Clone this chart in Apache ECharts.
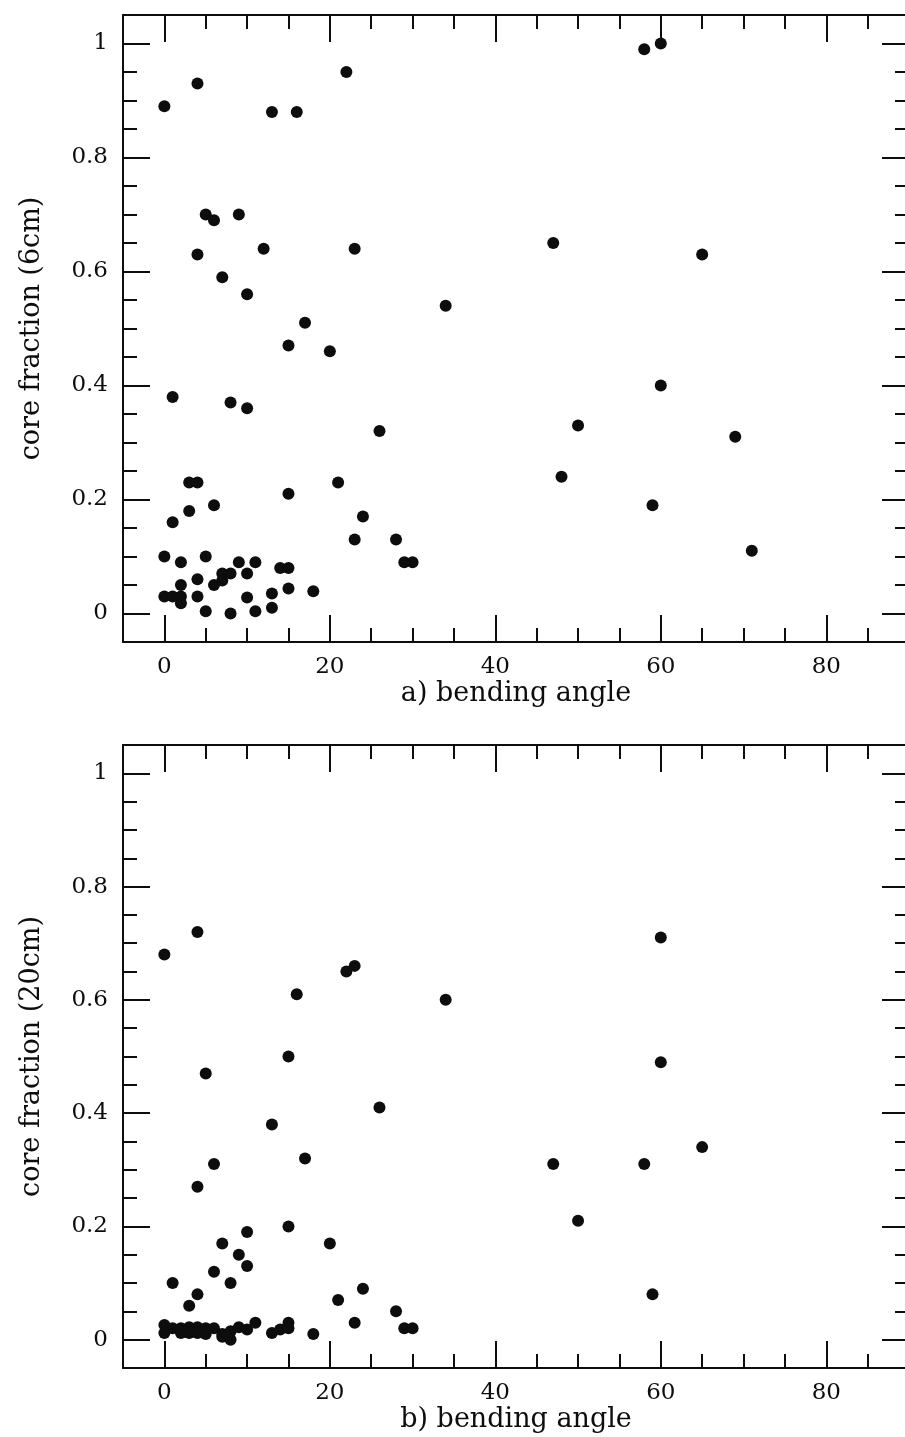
<!DOCTYPE html>
<html>
<head>
<meta charset="utf-8">
<title>core fraction vs bending angle</title>
<script src="https://cdn.jsdelivr.net/npm/echarts@6/dist/echarts.min.js"></script>
<style>
  html, body { margin: 0; padding: 0; background: #ffffff; overflow: hidden; }
  #chart { width: 905px; height: 1437px; }
</style>
</head>
<body>
<div id="chart"></div>
<script>
// Panel a: 6cm core fraction against bending angle (degrees)
const angleA = [0, 4, 13, 16, 22, 58, 60,
  5, 6, 9, 4, 7, 12, 10, 23, 17, 15, 20, 34, 47, 65,
  1, 8, 10, 60, 26, 50, 69, 48, 59, 71,
  3, 4, 21, 15, 6, 3, 1, 24, 23, 28, 29, 30,
  0, 2, 5, 9, 11, 14, 15, 7, 8, 10, 7, 4, 6, 2,
  0, 1, 2, 2, 4, 10, 13, 15, 18, 5, 8, 11, 13];
const fracA = [0.89, 0.93, 0.88, 0.88, 0.95, 0.99, 1.0,
  0.70, 0.69, 0.70, 0.63, 0.59, 0.64, 0.56, 0.64, 0.51, 0.47, 0.46, 0.54, 0.65, 0.63,
  0.38, 0.37, 0.36, 0.40, 0.32, 0.33, 0.31, 0.24, 0.19, 0.11,
  0.23, 0.23, 0.23, 0.21, 0.19, 0.18, 0.16, 0.17, 0.13, 0.13, 0.09, 0.09,
  0.10, 0.09, 0.10, 0.09, 0.09, 0.08, 0.08, 0.07, 0.07, 0.07, 0.058, 0.06, 0.05, 0.05,
  0.03, 0.03, 0.03, 0.018, 0.03, 0.028, 0.035, 0.044, 0.039, 0.004, 0.0, 0.004, 0.01];

// Panel b: 20cm core fraction against bending angle (degrees)
const angleB = [0, 4, 60, 22, 23, 16, 34, 15, 60, 5, 26, 13, 65, 17, 6, 47, 58, 4,
  50, 15, 10, 7, 20, 9, 10, 6, 1, 8, 24, 4, 59, 21, 3, 28, 23, 29, 30, 18,
  0, 0, 1, 2, 3, 4, 3, 4, 5, 6, 7, 8, 8, 9, 10, 11, 13, 14, 15, 15, 5, 2, 7];
const fracB = [0.68, 0.72, 0.71, 0.65, 0.66, 0.61, 0.60, 0.50, 0.49, 0.47, 0.41, 0.38, 0.34, 0.32, 0.31, 0.31, 0.31, 0.27,
  0.21, 0.20, 0.19, 0.17, 0.17, 0.15, 0.13, 0.12, 0.10, 0.10, 0.09, 0.08, 0.08, 0.07, 0.06, 0.05, 0.03, 0.02, 0.02, 0.01,
  0.026, 0.012, 0.02, 0.012, 0.022, 0.022, 0.012, 0.012, 0.01, 0.02, 0.01, 0.015, 0.0, 0.022, 0.018, 0.03, 0.012, 0.018, 0.03, 0.02, 0.02, 0.02, 0.005];

// Tick positions and labels
const xMajorTicks = [0, 20, 40, 60, 80];
const xMinorTicks = [5, 10, 15, 25, 30, 35, 45, 50, 55, 65, 70, 75, 85];
const yMajorTicks = [0, 0.2, 0.4, 0.6, 0.8, 1];
const yMinorTicks = [0.05, 0.1, 0.15, 0.25, 0.3, 0.35, 0.45, 0.5, 0.55, 0.65, 0.7, 0.75, 0.85, 0.9, 0.95];
const xTitles = ['a) bending angle', 'b) bending angle'];
const yTitles = ['core fraction (6cm)', 'core fraction (20cm)'];

const INK = '#0d0d0d';
const FONT = '"DejaVu Serif", "Liberation Serif", serif';
const X_RANGE = [-5, 90];
const Y_RANGE = [-0.05, 1.05];

// The frame runs slightly past the right edge of the page
const grids = [
  { left: 123, top: 15, width: 786, height: 627, outerBoundsMode: 'none', containLabel: false },
  { left: 123, top: 745, width: 786, height: 623, outerBoundsMode: 'none', containLabel: false }
];

const xAxes = [];
const yAxes = [];

function xAxis(gridIndex, position, major, withLabel) {
  return {
    type: 'value', gridIndex, position, min: X_RANGE[0], max: X_RANGE[1],
    axisLine: { show: major, onZero: false, lineStyle: { color: INK, width: 2 } },
    axisTick: {
      show: true, inside: true, length: major ? 27 : 14,
      customValues: major ? xMajorTicks : xMinorTicks,
      lineStyle: { color: INK, width: 2 }
    },
    axisLabel: withLabel ? {
      show: true, customValues: xMajorTicks, margin: 14,
      color: INK, fontFamily: FONT, fontSize: 23
    } : { show: false },
    splitLine: { show: false },
    name: withLabel ? xTitles[gridIndex] : '',
    nameLocation: 'middle', nameGap: 52,
    nameTextStyle: { color: INK, fontFamily: FONT, fontSize: 27, verticalAlign: 'middle' }
  };
}

function yAxis(gridIndex, position, major, withLabel) {
  return {
    type: 'value', gridIndex, position, min: Y_RANGE[0], max: Y_RANGE[1],
    axisLine: { show: major, onZero: false, lineStyle: { color: INK, width: 2 } },
    axisTick: {
      show: true, inside: true, length: major ? 27 : 14,
      customValues: major ? yMajorTicks : yMinorTicks,
      lineStyle: { color: INK, width: 2 }
    },
    axisLabel: withLabel ? {
      show: true, customValues: yMajorTicks, margin: 15,
      color: INK, fontFamily: FONT, fontSize: 23
    } : { show: false },
    splitLine: { show: false },
    name: withLabel ? yTitles[gridIndex] : '',
    nameLocation: 'middle', nameGap: 91,
    nameTextStyle: { color: INK, fontFamily: FONT, fontSize: 27, verticalAlign: 'middle' }
  };
}

const series = [];
const panels = [[angleA, fracA], [angleB, fracB]];

grids.forEach((g, i) => {
  const xBase = xAxes.length;
  const yBase = yAxes.length;
  xAxes.push(xAxis(i, 'bottom', true, true));
  xAxes.push(xAxis(i, 'bottom', false, false));
  xAxes.push(xAxis(i, 'top', true, false));
  xAxes.push(xAxis(i, 'top', false, false));
  yAxes.push(yAxis(i, 'left', true, true));
  yAxes.push(yAxis(i, 'left', false, false));
  yAxes.push(yAxis(i, 'right', true, false));
  yAxes.push(yAxis(i, 'right', false, false));

  const [xs, ys] = panels[i];
  series.push({
    type: 'scatter',
    xAxisIndex: xBase,
    yAxisIndex: yBase,
    data: xs.map((x, k) => [x, ys[k]]),
    symbol: 'circle',
    symbolSize: 12,
    itemStyle: { color: INK, opacity: 1 },
    emphasis: { disabled: true },
    silent: true
  });
});

const chart = echarts.init(document.getElementById('chart'), null, { renderer: 'canvas' });
chart.setOption({
  animation: false,
  backgroundColor: '#ffffff',
  grid: grids,
  xAxis: xAxes,
  yAxis: yAxes,
  series
});
</script>
</body>
</html>
